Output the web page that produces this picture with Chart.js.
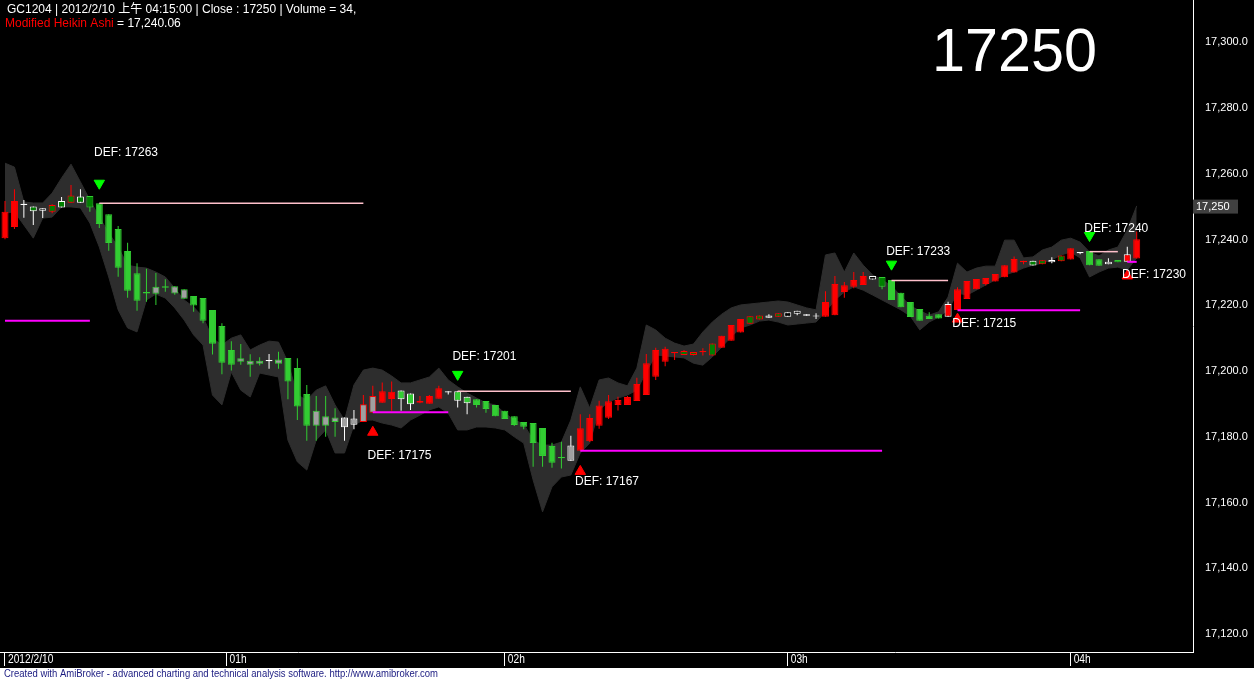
<!DOCTYPE html>
<html>
<head>
<meta charset="utf-8">
<script src="https://cdn.jsdelivr.net/npm/chart.js@4.4.1/dist/chart.umd.min.js"></script>
<style>
  html, body { margin: 0; padding: 0; background: #000; }
  canvas { display: block; }
</style>
</head>
<body>
<canvas id="grafico_ha" width="1254" height="680"></canvas>
<script>
const ctxGrafico = document.getElementById('grafico_ha');

// cabecalho
const simbolo = 'GC1204';
const dataHora = '2012/2/10 上午 04:15:00';
const ultimoFechamento = 17250;
const volume = 34;
const valorHeikin = 17240.06;

// velas Heikin Ashi (barras de 2 minutos)
const estilo = ['R','R','W','DW','W','DR','DW','DR','DW','DG',
  'G','G','G','G','G','G','GG','G','GG','GG',
  'G','G','G','G','G','GG','GG','GG','W','GG',
  'G','G','G','GG','GG','GG','GW','GW','GR','GR',
  'R','R','VW','VW','R','R','R','W','VW','VW',
  'G','G','G','G','G','G','G','G','G','G',
  'GW','R','R','R','R','R','R','R','R','R',
  'R','R','DR','DR','R','DR','R','R','R','DR',
  'DR','W','DR','W','W','W','W','R','R','R',
  'R','R','W','DG','G','G','G','G','G','G',
  'RW','R','R','R','R','R','R','R','R','DW',
  'DR','W','DR','R','W','G','G','W','DG','RW',
  'R'];
const abertura = [17240.4,17243.8,17250.5,17248.6,17248.7,17248.4,17249.7,17251.2,17251.2,17253.2,
  17251.0,17247.7,17243.2,17236.5,17229.7,17224.0,17225.6,17225.8,17225.8,17224.9,
  17222.8,17222.2,17218.6,17213.7,17206.4,17203.9,17203.1,17203.1,17203.0,17203.5,
  17204.0,17200.9,17193.0,17187.9,17186.3,17185.9,17182.9,17183.7,17184.5,17187.3,
  17190.4,17191.5,17191.4,17189.9,17190.4,17190.1,17191.6,17193.5,17191.0,17190.2,
  17191.4,17190.9,17189.7,17187.9,17186.3,17184.5,17184.2,17182.7,17177.2,17173.9,
  17172.7,17175.8,17178.7,17183.4,17185.8,17189.7,17189.7,17190.9,17192.7,17198.3,
  17202.8,17205.4,17204.9,17204.9,17205.7,17204.7,17207.1,17209.2,17211.7,17214.4,
  17215.7,17216.2,17216.5,17216.5,17217.4,17216.8,17216.6,17216.5,17217.0,17224.0,
  17225.6,17226.2,17227.8,17228.6,17227.7,17223.8,17221.0,17218.9,17216.8,17217.3,
  17216.5,17218.6,17221.9,17224.9,17226.5,17227.2,17228.5,17230.0,17233.1,17232.1,
  17232.5,17233.1,17233.4,17233.9,17235.8,17236.5,17234.0,17232.5,17233.8,17233.2,
  17234.2];
const maxima = [17251.7,17255.3,17252.0,17250.0,17249.5,17250.7,17252.9,17256.6,17255.3,17253.2,
  17251.0,17247.7,17244.1,17239.0,17232.8,17231.1,17229.8,17227.9,17225.8,17224.9,
  17222.8,17222.2,17218.6,17214.5,17209.1,17208.2,17205.1,17204.2,17205.2,17205.9,
  17204.0,17203.9,17195.8,17192.4,17192.4,17188.7,17185.9,17188.2,17192.7,17195.5,
  17196.5,17196.8,17194.1,17193.2,17192.4,17192.7,17195.5,17193.9,17193.9,17192.2,
  17191.4,17190.9,17189.7,17187.9,17186.3,17184.5,17184.2,17182.7,17178.2,17178.5,
  17180.3,17186.9,17186.9,17191.0,17192.7,17192.2,17192.4,17198.0,17205.2,17207.1,
  17207.4,17205.8,17206.4,17205.8,17206.9,17208.4,17210.7,17214.0,17215.8,17216.7,
  17216.9,17217.3,17217.6,17217.9,17218.3,17217.3,17217.6,17224.3,17228.9,17227.1,
  17230.1,17230.1,17228.9,17228.6,17227.7,17223.8,17221.0,17218.9,17217.9,17217.3,
  17221.1,17225.5,17227.4,17228.0,17228.3,17229.5,17232.2,17234.8,17233.5,17233.5,
  17233.7,17234.6,17235.1,17237.3,17236.2,17236.5,17234.0,17234.3,17233.8,17237.8,
  17242.4];
const minima = [17240.1,17243.2,17246.6,17244.4,17246.5,17248.0,17249.7,17251.2,17251.2,17248.4,
  17243.5,17236.6,17228.7,17222.3,17218.3,17221.1,17220.1,17224.1,17223.2,17222.0,
  17218.0,17214.5,17205.0,17199.0,17200.2,17201.9,17198.3,17201.7,17200.7,17200.7,
  17191.4,17185.1,17178.8,17178.8,17180.0,17180.0,17178.8,17182.3,17184.5,17187.3,
  17190.4,17187.9,17187.9,17188.2,17190.2,17190.1,17191.6,17192.9,17188.9,17186.9,
  17188.9,17187.3,17186.3,17185.4,17183.3,17182.3,17170.9,17170.9,17170.6,17170.4,
  17172.7,17175.8,17178.4,17182.5,17185.4,17188.0,17189.7,17190.9,17192.7,17197.3,
  17201.5,17203.4,17204.9,17204.7,17204.7,17204.7,17207.1,17209.2,17211.7,17214.4,
  17215.7,17216.2,17216.5,17216.5,17217.0,17216.8,17215.8,17216.5,17217.0,17222.3,
  17225.2,17226.2,17227.8,17224.9,17221.6,17219.4,17216.4,17215.3,17215.8,17216.0,
  17216.5,17218.6,17221.9,17224.9,17226.0,17227.2,17228.5,17230.0,17232.5,17232.1,
  17232.5,17232.8,17233.4,17233.9,17235.5,17232.2,17232.0,17232.5,17233.1,17233.2,
  17234.2];
const fechamento = [17248.4,17251.7,17250.9,17250.0,17249.5,17250.5,17251.7,17253.4,17253.1,17249.7,
  17244.7,17238.9,17231.4,17224.4,17221.4,17223.6,17223.5,17225.3,17223.6,17222.0,
  17219.9,17215.3,17208.3,17202.5,17201.9,17202.8,17201.9,17202.2,17203.4,17202.2,
  17196.8,17189.2,17183.4,17183.4,17183.4,17184.5,17185.9,17185.6,17189.9,17192.4,
  17193.9,17193.7,17194.1,17193.2,17190.9,17192.4,17194.8,17193.9,17193.9,17192.2,
  17189.7,17188.5,17186.3,17185.4,17183.6,17183.1,17178.1,17174.2,17172.1,17173.5,
  17177.4,17182.6,17185.7,17189.5,17190.8,17191.2,17192.1,17196.1,17202.4,17206.4,
  17206.8,17205.8,17206.1,17205.8,17206.1,17208.4,17210.7,17214.0,17215.8,17216.7,
  17216.9,17216.9,17217.6,17217.9,17218.3,17217.3,17216.9,17221.0,17226.5,17226.1,
  17227.7,17228.9,17228.9,17225.6,17221.6,17219.4,17216.4,17215.3,17215.8,17216.0,
  17220.4,17224.9,17227.4,17228.0,17228.3,17229.5,17232.2,17234.1,17233.5,17233.5,
  17233.7,17233.8,17235.1,17237.3,17236.2,17232.2,17232.0,17233.2,17233.1,17235.5,
  17240.06];

// faixa cinza
const bandaSup = [17263.2,17262.0,17251.4,17251.1,17251.1,17254.1,17258.7,17262.9,17257.5,17252.0,
  17246.8,17242.0,17237.7,17232.2,17231.6,17231.3,17230.1,17228.6,17225.2,17221.6,
  17219.5,17216.4,17210.0,17207.9,17210.0,17211.0,17206.4,17207.9,17209.1,17208.8,
  17202.7,17192.7,17191.2,17194.2,17195.5,17189.7,17185.1,17195.8,17200.3,17200.9,
  17200.3,17198.5,17196.4,17196.4,17197.3,17198.2,17200.9,17197.3,17195.2,17193.3,
  17191.8,17190.3,17189.7,17187.2,17185.1,17183.9,17179.0,17177.5,17177.5,17178.4,
  17185.1,17195.2,17188.8,17197.3,17197.9,17196.4,17195.5,17200.9,17214.0,17212.5,
  17210.0,17208.5,17207.6,17208.2,17211.9,17214.9,17217.3,17219.2,17220.1,17220.4,
  17220.7,17221.0,17221.3,17221.0,17220.1,17219.2,17218.6,17235.3,17235.9,17230.1,
  17235.9,17232.2,17229.2,17227.7,17225.9,17222.8,17219.8,17218.3,17217.0,17218.0,
  17222.5,17232.8,17230.1,17231.3,17231.9,17231.9,17239.8,17239.8,17234.4,17234.7,
  17236.8,17237.7,17239.8,17240.4,17239.2,17236.2,17235.0,17236.8,17237.7,17242.9,
  17250.2];
const bandaInf = [17248.0,17248.4,17244.4,17240.4,17246.5,17246.8,17249.9,17249.9,17249.6,17245.0,
  17237.7,17228.6,17218.6,17213.1,17211.9,17221.6,17223.4,17222.2,17219.2,17215.5,
  17211.0,17207.9,17192.7,17189.7,17199.7,17194.2,17192.1,17199.4,17198.8,17198.2,
  17179.0,17172.4,17169.9,17179.0,17182.1,17175.1,17175.1,17183.6,17185.1,17185.1,
  17184.2,17183.6,17182.7,17185.1,17186.6,17188.2,17189.1,17187.2,17182.1,17182.1,
  17183.0,17183.0,17182.7,17182.1,17180.0,17178.1,17166.9,17157.2,17164.8,17167.8,
  17168.4,17175.1,17178.1,17188.2,17190.6,17191.8,17192.7,17194.2,17199.7,17204.9,
  17204.6,17204.3,17204.0,17202.4,17201.8,17204.3,17207.3,17210.4,17213.1,17214.0,
  17215.2,17215.5,17214.9,17214.0,17214.3,17214.6,17214.9,17218.0,17221.6,17224.0,
  17225.6,17224.6,17223.1,17221.6,17220.1,17218.6,17216.7,17212.5,17214.9,17216.4,
  17218.6,17223.7,17223.1,17224.6,17226.2,17227.7,17229.2,17230.1,17231.3,17232.2,
  17232.8,17233.8,17235.3,17236.2,17234.4,17228.6,17230.1,17231.3,17231.6,17230.7,
  17234.4];

// linhas de stop (DEF)
const linhaInicio = [0, 10, 39, 48, 61, 94, 101, 115, 119];
const linhaFim = [9, 38, 47, 60, 93, 100, 114, 118, 120];
const linhaNivel = [17215.3, 17251.0, 17187.5, 17193.9, 17175.8, 17227.5, 17218.5, 17236.3, 17233.2];
const linhaTipo = ['compra','venda','compra','venda','compra','venda','compra','venda','compra'];

// sinais
const sinalBarra = [10, 39, 48, 61, 94, 101, 115, 119];
const sinalTipo = ['venda','compra','venda','compra','venda','compra','venda','compra'];
const sinalPreco = [17257.1, 17181.4, 17199.0, 17169.5, 17232.5, 17215.8, 17241.2, 17228.9];
const sinalDef = [17263, 17175, 17201, 17167, 17233, 17215, 17240, 17230];

// eixos
const eixoXBarra = [0, 23.5, 53, 83, 113];
const eixoXRotulo = ['2012/2/10', '01h', '02h', '03h', '04h'];
const eixoYValores = [17120, 17140, 17160, 17180, 17200, 17220, 17240, 17260, 17280, 17300];

const FONTE = '"Liberation Sans", Arial, "Noto Sans CJK SC", sans-serif';
const VERDE = '#32cd32';
const VERDE_ESCURO = '#008000';
const CINZA = '#a0a0a0';
const cores = {
  R:  { fundo: '#ff0000', borda: '#ff0000', pavio: '#ff0000' },
  G:  { fundo: VERDE, borda: VERDE, pavio: VERDE },
  W:  { fundo: '#000000', borda: '#ffffff', pavio: '#ffffff' },
  DW: { fundo: VERDE_ESCURO, borda: '#ffffff', pavio: '#ffffff' },
  DR: { fundo: VERDE_ESCURO, borda: '#ff0000', pavio: '#ff0000' },
  DG: { fundo: VERDE_ESCURO, borda: VERDE, pavio: VERDE },
  GG: { fundo: CINZA, borda: VERDE, pavio: VERDE },
  GW: { fundo: CINZA, borda: '#ffffff', pavio: '#ffffff' },
  GR: { fundo: CINZA, borda: '#ff0000', pavio: '#ff0000' },
  RW: { fundo: '#ff0000', borda: '#ffffff', pavio: '#ffffff' },
  VW: { fundo: VERDE, borda: '#ffffff', pavio: '#ffffff' }
};
const COR_BANDA = '#2d2d2d';

function corDe(campo) {
  return function (ctx) {
    if (ctx.dataIndex === undefined) return '#000';
    return cores[estilo[ctx.dataIndex]][campo];
  };
}

const indices = estilo.map((_, i) => i);

const datasets = [
  {
    type: 'line',
    data: indices.map(i => ({ x: i, y: bandaSup[i] })),
    borderColor: COR_BANDA, borderWidth: 1, backgroundColor: COR_BANDA,
    fill: '+1', pointRadius: 0, tension: 0, order: 10
  },
  {
    type: 'line',
    data: indices.map(i => ({ x: i, y: bandaInf[i] })),
    borderColor: COR_BANDA, borderWidth: 1, fill: false,
    pointRadius: 0, tension: 0, order: 10
  },
  {
    type: 'bar',
    data: indices.map(i => ({ x: i, y: [minima[i], maxima[i]] })),
    barThickness: 1, grouped: false, inflateAmount: 0,
    backgroundColor: corDe('pavio'), borderWidth: 0, order: 6
  },
  {
    type: 'bar',
    data: indices.map(i => ({
      x: i,
      y: [Math.min(abertura[i], fechamento[i]), Math.max(abertura[i], fechamento[i])]
    })),
    barThickness: 7, grouped: false, inflateAmount: 0,
    borderWidth: 1, borderSkipped: false,
    backgroundColor: corDe('fundo'), borderColor: corDe('borda'), order: 5
  }
];

linhaNivel.forEach((nivel, k) => {
  datasets.push({
    type: 'line',
    data: [{ x: linhaInicio[k], y: nivel }, { x: linhaFim[k], y: nivel }],
    borderColor: linhaTipo[k] === 'venda' ? '#ffc0cb' : '#ff00ff',
    borderWidth: linhaTipo[k] === 'venda' ? 1.5 : 2,
    pointRadius: 0, fill: false, order: 4
  });
});

sinalBarra.forEach((barra, k) => {
  const venda = sinalTipo[k] === 'venda';
  datasets.push({
    type: 'scatter',
    data: [{ x: barra, y: sinalPreco[k] }],
    pointStyle: 'triangle',
    rotation: venda ? 180 : 0,
    pointRadius: 6,
    backgroundColor: venda ? '#00ff00' : '#ff0000',
    borderColor: venda ? '#00ff00' : '#ff0000',
    borderWidth: 1,
    order: 3
  });
});

const pluginFundo = {
  id: 'fundo',
  beforeDraw(chart) {
    const c = chart.ctx;
    c.save();
    c.fillStyle = '#000';
    c.fillRect(0, 0, chart.width, chart.height);
    c.fillStyle = '#fff';
    c.fillRect(0, 668, chart.width, 12);
    c.restore();
  }
};

const pluginTextos = {
  id: 'textos',
  afterDraw(chart) {
    const c = chart.ctx;
    const x = chart.scales.x;
    const y = chart.scales.y;
    c.save();

    // cabecalho
    c.textBaseline = 'middle';
    c.textAlign = 'left';
    c.font = '12px ' + FONTE;
    c.fillStyle = '#fff';
    c.fillText(`${simbolo} | ${dataHora} | Close : ${ultimoFechamento} | Volume = ${volume},`, 7, 9.5);
    c.fillStyle = '#ff0000';
    const nome = 'Modified Heikin Ashi';
    c.fillText(nome, 5, 23.5);
    c.fillStyle = '#fff';
    c.fillText(' = ' + valorHeikin.toLocaleString('en-US', { minimumFractionDigits: 2 }), 5 + c.measureText(nome).width, 23.5);

    // numero grande
    c.font = '62px ' + FONTE;
    const txt = String(ultimoFechamento);
    const w = c.measureText(txt).width;
    c.translate(932, 54);
    c.scale(165 / w, 1);
    c.fillText(txt, 0, 0);
    c.setTransform(1, 0, 0, 1, 0, 0);

    // rotulos DEF
    c.font = '12px ' + FONTE;
    c.fillStyle = '#fff';
    sinalBarra.forEach((barra, k) => {
      const px = x.getPixelForValue(barra) - 5.3;
      const py = y.getPixelForValue(sinalDef[k]) + (sinalTipo[k] === 'venda' ? -11 : 2);
      c.fillText('DEF: ' + sinalDef[k], px, py);
    });

    // preco atual no eixo
    const py = y.getPixelForValue(ultimoFechamento);
    c.fillStyle = '#404040';
    c.fillRect(y.left, py - 7, 45, 14);
    c.fillStyle = '#fff';
    c.font = '11px ' + FONTE;
    c.fillText(ultimoFechamento.toLocaleString('en-US'), y.left + 3, py + 0.5);

    // rotulos do eixo x
    c.font = '12px ' + FONTE;
    eixoXBarra.forEach((v, k) => {
      const px = x.getPixelForValue(v) + 3;
      c.save();
      c.translate(px, 659.5);
      c.scale(0.85, 1);
      c.fillText(eixoXRotulo[k], 0, 0);
      c.restore();
    });

    // rodape
    c.fillStyle = '#1a1a80';
    c.font = '10px ' + FONTE;
    const rod = 'Created with AmiBroker - advanced charting and technical analysis software. http://www.amibroker.com';
    const wr = c.measureText(rod).width;
    c.translate(4, 674);
    c.scale(434 / wr, 1);
    c.fillText(rod, 0, 0);
    c.restore();
  }
};

function semMargem(ax) {
  ax.paddingLeft = 0;
  ax.paddingRight = 0;
  ax.paddingTop = 0;
  ax.paddingBottom = 0;
}

new Chart(ctxGrafico, {
  type: 'bar',
  data: { datasets: datasets },
  options: {
    responsive: false,
    devicePixelRatio: 1,
    animation: false,
    events: [],
    layout: { autoPadding: false, padding: { left: 0, right: 0, top: 0, bottom: 12 } },
    scales: {
      x: {
        type: 'linear',
        min: -0.53,
        max: 125.97,
        offset: false,
        afterBuildTicks: ax => { ax.ticks = eixoXBarra.map(v => ({ value: v })); },
        afterFit: ax => { ax.height = 16; semMargem(ax); },
        ticks: { display: false, autoSkip: false },
        grid: { offset: false, drawOnChartArea: false, drawTicks: true, tickLength: 14, color: '#fff', lineWidth: 1 },
        border: { display: true, color: '#fff', width: 1 }
      },
      y: {
        type: 'linear',
        position: 'right',
        min: 17114.6,
        max: 17312.8,
        afterBuildTicks: ax => { ax.ticks = eixoYValores.map(v => ({ value: v })); },
        afterFit: ax => { ax.width = 61; semMargem(ax); },
        ticks: {
          color: '#fff',
          padding: 12,
          font: { family: FONTE, size: 11 },
          callback: v => v.toLocaleString('en-US', { minimumFractionDigits: 1, maximumFractionDigits: 1 })
        },
        grid: { display: false, drawTicks: false },
        border: { display: true, color: '#fff', width: 1 }
      }
    },
    plugins: {
      legend: { display: false },
      tooltip: { enabled: false },
      filler: { drawTime: 'beforeDatasetDraw' }
    }
  },
  plugins: [pluginFundo, pluginTextos]
});
</script>
</body>
</html>
